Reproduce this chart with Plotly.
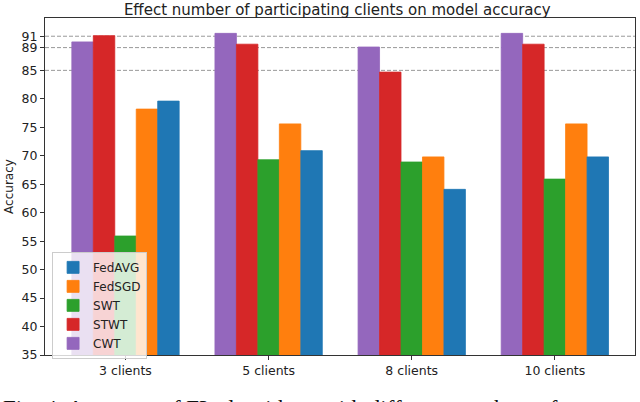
import plotly.graph_objects as go

groups = ['3 clients', '5 clients', '8 clients', '10 clients']
methods = ['CWT', 'STWT', 'SWT', 'FedSGD', 'FedAVG']
colors = ['#9467bd', '#d62728', '#2ca02c', '#ff7f0e', '#1f77b4']

cwt = [90.0, 91.5, 89.1, 91.5]
stwt = [91.1, 89.6, 84.7, 89.6]
swt = [55.9, 69.3, 68.9, 65.9]
fedsgd = [78.2, 75.6, 69.8, 75.6]
fedavg = [79.6, 70.9, 64.1, 69.8]
values = [cwt, stwt, swt, fedsgd, fedavg]

yticks = [35, 40, 45, 50, 55, 60, 65, 70, 75, 80, 85, 89, 91]
ref_lines = [85, 89, 91]

fig = go.Figure()
for name, vals, c in zip(methods, values, colors):
    fig.add_trace(go.Bar(x=groups, y=vals, name=name, marker=dict(color=c, line=dict(width=0.8, color=c))))

for v in ref_lines:
    fig.add_hline(y=v, line=dict(color='#999999', width=1, dash='4px,2px'), layer='below')

axis_style = dict(showline=True, linecolor='#333', linewidth=1, mirror=True, showgrid=False,
                  ticks='outside', ticklen=4, tickcolor='#333', zeroline=False,
                  tickfont=dict(family='DejaVu Sans', size=12.5, color='#222'))

fig.update_layout(
    width=640, height=402,
    margin=dict(l=45, r=5, t=18, b=47),
    plot_bgcolor='white', paper_bgcolor='white',
    barmode='group', bargap=0.25, bargroupgap=0,
    title=dict(text='Effect number of participating clients on model accuracy', x=0.527, xanchor='center',
               y=1 - 10/402, yanchor='middle', yref='container',
               font=dict(family='DejaVu Sans', size=15, color='#222')),
    xaxis=dict(range=[-0.5625, 3.56], **axis_style),
    yaxis=dict(range=[35, 94.2], tickvals=yticks, title=dict(text='Accuracy', standoff=5,
               font=dict(family='DejaVu Sans', size=12, color='#222')), **axis_style),
    legend=dict(x=0.012, y=0.306, xanchor='left', yanchor='top', traceorder='reversed',
                bgcolor='rgba(255,255,255,0.8)', bordercolor='#cccccc', borderwidth=1,
                font=dict(family='DejaVu Sans', size=12, color='#222')),
    showlegend=True,
)

# caption of the paper figure, only its top half is in the crop
fig.add_annotation(text='Fig. 4: Accuracy of FL algorithms with different numbers of', xref='paper', yref='paper',
                   x=-0.075, y=-39/337, xanchor='left', yanchor='top', showarrow=False,
                   font=dict(family='Liberation Serif', size=23, color='#111'))

fig.write_html('out.html', config={'displayModeBar': False},
               post_script="document.body.style.margin='0';")
